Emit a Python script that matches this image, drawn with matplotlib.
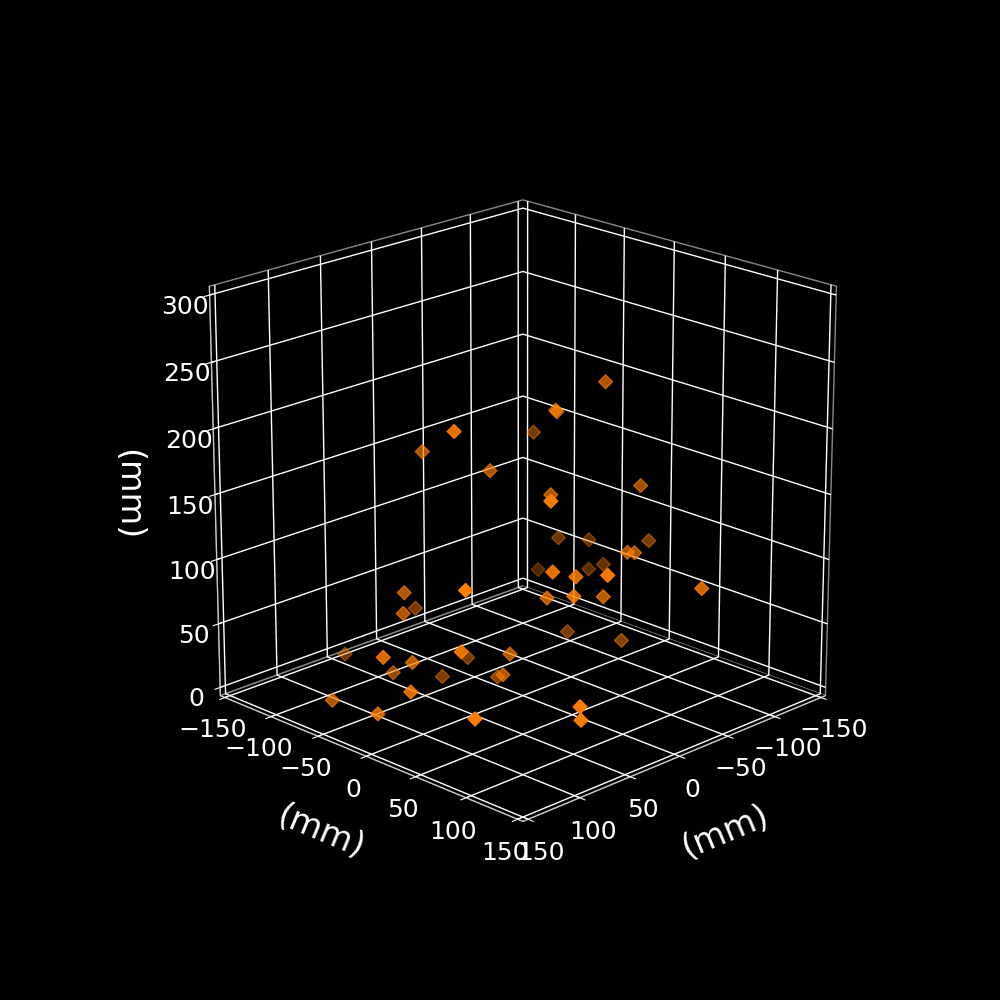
import matplotlib
matplotlib.use("Agg")
import matplotlib.pyplot as plt

plt.style.use("dark_background")
plt.rcParams['grid.linewidth'] = 1.0

xs = [-55, -25, -25, -67, 86, 49, 18, -69, -8, 65, -76, -104, -107, -37, -40, -96, 63, -105, -103, 38, 50, -28, 135, 84, 25, 88, 27, 42, -1, -49, -61, 56, 146, 105, 75, 27, 121, 7, 42, 9, 49, 138, 139, 149, 148, 94, 92]
ys = [28, 8, 9, -56, 19, -52, -15, 50, 20, 92, -39, -35, 23, 68, 72, -80, 92, -36, -19, 90, 132, 148, 80, -35, -86, -32, 51, 92, 79, -3, 40, -129, 9, -5, -57, -56, 61, -50, 29, -17, 29, 28, -52, 6, 102, 149, 148]
zs = [229, 210, 209, 167, 224, 182, 169, 152, 153, 186, 86, 78, 92, 114, 114, 44, 133, 54, 63, 122, 138, 111, 136, 88, 45, 74, 92, 109, 93, 29, 31, 5, 69, 49, 17, 0, 81, 11, 47, 6, 33, 46, 16, 26, 51, 58, 47]
xy_ticks = [-150, -100, -50, 0, 50, 100, 150]
z_ticks = [0, 50, 100, 150, 200, 250, 300]

fig = plt.figure(figsize=(10, 10), dpi=100)
ax = fig.add_subplot(projection="3d")
ax.view_init(elev=20, azim=45)
ax.set_box_aspect((1, 1, 1), zoom=0.951)

ax.scatter(xs, ys, zs, marker="D", s=50, color="#ff7f00")

ax.set_xlim(-155, 155)
ax.set_ylim(-155, 155)
ax.set_zlim(-6.5, 306.5)
ax.set_xticks(xy_ticks)
ax.set_yticks(xy_ticks)
ax.set_zticks(z_ticks)
ax.tick_params(labelsize=18)

ax.xaxis.set_rotate_label(True)
ax.yaxis.set_rotate_label(True)
ax.zaxis.set_rotate_label(False)
ax.set_xlabel("(mm)", fontsize=24, labelpad=20)
ax.set_ylabel("(mm)", fontsize=24, labelpad=20)
ax.set_zlabel("(mm)", fontsize=24, labelpad=20, rotation=-90)

for a in (ax.xaxis, ax.yaxis, ax.zaxis):
    a.set_pane_color((0, 0, 0, 1))
    a.pane.set_edgecolor("#888888")
    a.line.set_color("#cccccc")

fig.savefig("out.png")
